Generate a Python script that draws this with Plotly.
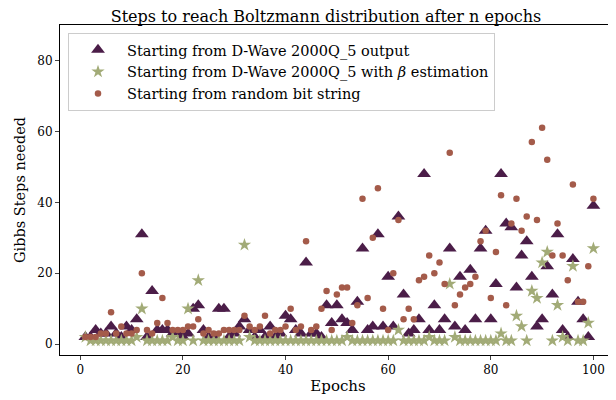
import plotly.graph_objects as go

epochs = list(range(1, 101))

# Gibbs steps needed, starting from D-Wave 2000Q_5 output
dwave_steps = [2, 2, 4, 3, 3, 5, 3, 2, 5, 4,
               7, 31, 2, 15, 4, 4, 4, 3, 3, 2,
               3, 10, 11, 4, 2, 2, 10, 10, 2, 3,
               5, 7, 4, 2, 4, 2, 5, 2, 3, 8,
               7, 4, 3, 23, 3, 3, 2, 11, 6, 11,
               7, 6, 4, 12, 27, 4, 5, 31, 5, 19,
               5, 36, 14, 3, 4, 7, 48, 4, 11, 4,
               7, 27, 5, 19, 4, 21, 7, 27, 32, 7,
               17, 48, 34, 33, 16, 25, 29, 19, 5, 7,
               22, 14, 31, 4, 2, 24, 12, 7, 2, 39]

# starting from D-Wave 2000Q_5 with beta estimation
beta_steps = [2, 1, 1, 1, 1, 1, 1, 1, 1, 1,
              2, 10, 1, 1, 1, 1, 1, 2, 1, 1,
              10, 1, 18, 1, 1, 1, 1, 1, 1, 1,
              1, 28, 2, 1, 1, 1, 1, 1, 1, 1,
              1, 1, 1, 1, 1, 1, 1, 1, 1, 1,
              1, 2, 1, 1, 1, 1, 1, 1, 1, 1,
              1, 4, 1, 1, 1, 1, 1, 2, 1, 1,
              1, 17, 2, 1, 1, 1, 1, 1, 1, 1,
              1, 3, 1, 1, 8, 5, 1, 15, 13, 23,
              26, 1, 11, 2, 1, 22, 1, 1, 6, 27]

# starting from random bit string
random_steps = [2, 2, 2, 3, 3, 9, 3, 5, 3, 3,
                4, 20, 4, 3, 6, 13, 6, 4, 4, 4,
                5, 5, 7, 3, 4, 3, 3, 4, 4, 4,
                4, 8, 5, 4, 5, 8, 3, 4, 4, 5,
                10, 4, 5, 29, 4, 5, 10, 15, 4, 14,
                16, 16, 6, 11, 41, 13, 30, 44, 10, 4,
                20, 35, 7, 10, 7, 18, 19, 25, 20, 23,
                17, 54, 11, 14, 16, 17, 19, 29, 32, 13,
                26, 42, 11, 34, 41, 32, 36, 57, 35, 61,
                52, 25, 34, 25, 18, 45, 12, 12, 22, 41]

FONT = "DejaVu Serif"

fig = go.Figure()

fig.add_trace(go.Scatter(
    x=epochs, y=dwave_steps, mode="markers",
    name="Starting from D-Wave 2000Q_5 output",
    marker=dict(symbol="triangle-up", size=12, color="#4b1d48"),
))
fig.add_trace(go.Scatter(
    x=epochs, y=beta_steps, mode="markers",
    name="Starting from D-Wave 2000Q_5 with <i>β</i> estimation",
    marker=dict(symbol="star", size=10, color="#a2ab77"),
))
fig.add_trace(go.Scatter(
    x=epochs, y=random_steps, mode="markers",
    name="Starting from random bit string",
    marker=dict(symbol="circle", size=6.5, color="#a45b4a"),
))

# page has an 8px body margin, so the figure is drawn 8px smaller
fig.update_layout(
    width=608, height=392,
    margin=dict(l=52, r=0, t=17, b=45),
    plot_bgcolor="white", paper_bgcolor="white",
    font=dict(family=FONT, size=14, color="black"),
    title=dict(text="Steps to reach Boltzmann distribution after n epochs",
               x=0.523, xanchor="center", y=0.994, yanchor="top",
               pad=dict(t=0, b=0), font=dict(size=16)),
    xaxis=dict(range=[-3.95, 104.4], tickvals=[0, 20, 40, 60, 80, 100],
               showgrid=False, zeroline=False, showline=True, linecolor="black",
               linewidth=1, mirror=True, ticks="outside", ticklen=4,
               tickfont=dict(size=12), automargin=False,
               title=dict(text="Epochs", font=dict(size=15), standoff=4)),
    yaxis=dict(range=[-3.05, 90], tickvals=[0, 20, 40, 60, 80],
               showgrid=False, zeroline=False, showline=True, linecolor="black",
               linewidth=1, ticks="outside", ticklen=4,
               tickfont=dict(size=12), automargin=False,
               title=dict(text="Gibbs Steps needed", font=dict(size=14.5), standoff=8)),
    legend=dict(x=0.0144, y=0.976, xanchor="left", yanchor="top",
                bgcolor="rgba(255,255,255,0.8)", bordercolor="#cccccc",
                borderwidth=1, font=dict(size=14.5), itemwidth=48,
                tracegroupgap=0),
    showlegend=True,
)

fig.write_html("out.html")
